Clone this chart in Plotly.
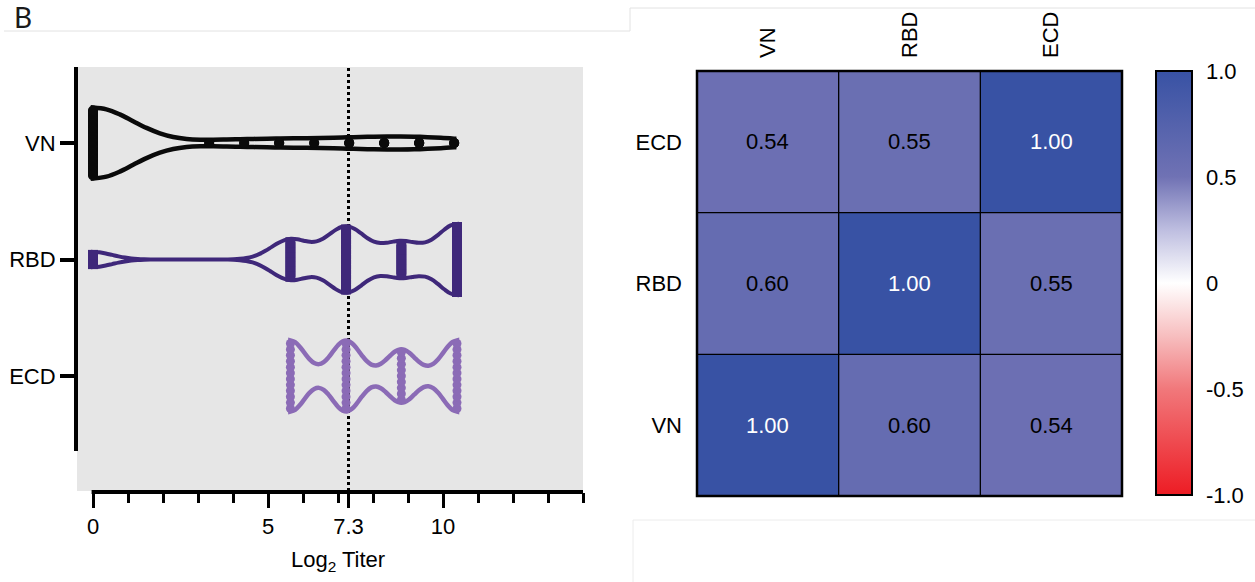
import numpy as np
import plotly.graph_objects as go

# ---------------- data ----------------
groups = ["VN", "RBD", "ECD"]

vn_titers = [0, 3.32, 4.32, 5.32, 6.32, 7.32, 8.32, 9.32, 10.32]
vn_counts = [55, 2, 2, 3, 2, 3, 4, 4, 3]

rbd_titers = [0, 5.64, 7.23, 8.81, 10.40]
rbd_counts = [3, 8, 13, 7, 14]

ecd_titers = [5.64, 7.23, 8.81, 10.40]
ecd_counts = [12, 12, 9, 12]

threshold = 7.3
major_ticks = [0, 5, 7.3, 10]
major_text = ["0", "5", "7.3", "10"]
minor_ticks = list(range(0, 15))

corr_labels = ["VN", "RBD", "ECD"]
corr = [
    [1.00, 0.60, 0.54],
    [0.60, 1.00, 0.55],
    [0.54, 0.55, 1.00],
]
cbar_vals = [-1, -0.5, 0, 0.5, 1]
cbar_text = ["-1.0", "-0.5", "0", "0.5", "1.0"]

# ---------------- geometry helpers ----------------
W, H = 1255, 582


def px(x):
    return x / W


def py(y):
    return 1 - y / H


FONT = "Liberation Sans, Arial, sans-serif"
Y_UNIT_PX = 116.5
VIOLIN_WIDTH = 0.61

series = [
    dict(name="VN", titers=vn_titers, counts=vn_counts, color="#0a0a0a",
         bw=1.15, lw=4.5, msize=10, symbol="circle"),
    dict(name="RBD", titers=rbd_titers, counts=rbd_counts, color="#3f287a",
         bw=0.55, lw=4, msize=10, symbol="square"),
    dict(name="ECD", titers=ecd_titers, counts=ecd_counts, color="#8b6bb6",
         bw=0.42, lw=4.5, msize=9, symbol="circle"),
]

fig = go.Figure()

n = len(groups)
for s in series:
    pos = n - 1 - groups.index(s["name"])
    samples = np.repeat(s["titers"], s["counts"])
    fig.add_trace(go.Violin(
        x=samples, y0=pos, orientation="h", name=s["name"],
        xaxis="x", yaxis="y",
        spanmode="hard", bandwidth=s["bw"], width=VIOLIN_WIDTH,
        scalemode="width", side="both", points=False,
        fillcolor="rgba(0,0,0,0)", line=dict(color=s["color"], width=s["lw"]),
        box_visible=False, meanline_visible=False, hoverinfo="skip",
        showlegend=False,
    ))
    # individual points spread across the local violin width
    cmax = max(s["counts"])
    r = 3 / Y_UNIT_PX
    xs, ys = [], []
    for v, c in zip(s["titers"], s["counts"]):
        hw = max(0.0, VIOLIN_WIDTH / 2 * c / cmax - r)
        offs = np.linspace(-hw, hw, c) if c > 1 else np.array([0.0])
        xs.extend([v] * c)
        ys.extend(list(pos + offs))
    fig.add_trace(go.Scatter(
        x=xs, y=ys, mode="markers", xaxis="x", yaxis="y",
        marker=dict(size=s["msize"], color=s["color"], symbol=s["symbol"],
                    line=dict(width=0)),
        hoverinfo="skip", showlegend=False, cliponaxis=False,
    ))

# ---------------- heatmap ----------------
colorscale = [
    [0.0, "rgb(237,28,36)"],
    [0.25, "rgb(241,120,123)"],
    [0.375, "rgb(247,190,191)"],
    [0.5, "rgb(255,255,255)"],
    [0.625, "rgb(190,190,224)"],
    [0.75, "rgb(112,114,180)"],
    [1.0, "rgb(56,82,164)"],
]
CB_TOP, CB_BOT, CB_L, CB_THICK = 71, 495, 1156, 36
fig.add_trace(go.Heatmap(
    z=corr, x=corr_labels, y=corr_labels, xaxis="x2", yaxis="y2",
    zmin=-1, zmax=1, colorscale=colorscale, hoverinfo="skip",
    colorbar=dict(
        x=px(CB_L), xanchor="left", y=py(CB_BOT), yanchor="bottom",
        len=(CB_BOT - CB_TOP) / H, lenmode="fraction",
        thickness=CB_THICK, thicknessmode="pixels",
        outlinewidth=2, outlinecolor="black",
        tickmode="array", tickvals=cbar_vals, ticktext=cbar_text,
        ticks="outside", ticklen=9, tickwidth=1, tickcolor="rgba(0,0,0,0)",
        tickfont=dict(family=FONT, size=22, color="black"),
        xpad=0, ypad=0,
    ),
))

annotations = []
for i, rl in enumerate(corr_labels):
    for j, cl in enumerate(corr_labels):
        val = corr[i][j]
        annotations.append(dict(
            x=cl, y=rl, xref="x2", yref="y2", text=f"{val:.2f}",
            showarrow=False,
            font=dict(family=FONT, size=22, color="white" if val >= 0.8 else "black"),
        ))

annotations.append(dict(
    x=px(338), y=py(561), xref="paper", yref="paper",
    xanchor="center", yanchor="middle",
    text="Log<sub>2</sub> Titer", showarrow=False,
    font=dict(family=FONT, size=22, color="black"),
))
annotations.append(dict(
    x=px(13), y=py(17), xref="paper", yref="paper",
    xanchor="left", yanchor="middle", borderpad=0,
    text="B", showarrow=False,
    font=dict(family="Lato, sans-serif", size=28, color="#1a1a1a"),
))

shapes = [
    # gray plotting background
    dict(type="rect", xref="paper", yref="paper", x0=px(77), x1=px(583),
         y0=py(491), y1=py(67), fillcolor="#e6e6e6", line=dict(width=0),
         layer="below"),
    # threshold line
    dict(type="line", xref="x", yref="paper", x0=threshold, x1=threshold,
         y0=py(491), y1=py(67), line=dict(color="black", width=3, dash="dot"),
         layer="below"),
    # y axis line
    dict(type="line", xref="paper", yref="paper", x0=px(76), x1=px(76),
         y0=py(451), y1=py(67), line=dict(color="black", width=4)),
    # x axis line
    dict(type="line", xref="x", yref="paper", x0=minor_ticks[0] - 0.04,
         x1=minor_ticks[-1] + 0.04, y0=py(492), y1=py(492),
         line=dict(color="black", width=4)),
    # panel frame lines
    dict(type="line", xref="paper", yref="paper", x0=px(4), x1=px(630),
         y0=py(31), y1=py(31), line=dict(color="#e2e2e2", width=1)),
    dict(type="line", xref="paper", yref="paper", x0=px(630), x1=px(630),
         y0=py(31), y1=py(8), line=dict(color="#e2e2e2", width=1)),
    dict(type="line", xref="paper", yref="paper", x0=px(630), x1=px(1255),
         y0=py(8), y1=py(8), line=dict(color="#e2e2e2", width=1)),
    dict(type="line", xref="paper", yref="paper", x0=px(633), x1=px(1255),
         y0=py(520), y1=py(520), line=dict(color="#ececec", width=1)),
    dict(type="line", xref="paper", yref="paper", x0=px(633), x1=px(633),
         y0=py(520), y1=0, line=dict(color="#ececec", width=1)),
    # heatmap outer frame
    dict(type="rect", xref="x2 domain", yref="y2 domain", x0=0, x1=1, y0=0,
         y1=1, line=dict(color="black", width=2.5)),
]
for k in range(len(corr_labels) - 1):
    shapes.append(dict(type="line", xref="x2", yref="y2 domain", x0=k + 0.5,
                       x1=k + 0.5, y0=0, y1=1,
                       line=dict(color="black", width=1.3)))
    shapes.append(dict(type="line", xref="x2 domain", yref="y2", x0=0, x1=1,
                       y0=k + 0.5, y1=k + 0.5,
                       line=dict(color="black", width=1.3)))

# small inward tick marks on both edges of the colour bar (interior ticks)
for v in cbar_vals[1:-1]:
    ypix = CB_BOT - (v + 1) / 2 * (CB_BOT - CB_TOP)
    for xa, xb in ((CB_L, CB_L + 5), (CB_L + CB_THICK - 5, CB_L + CB_THICK)):
        shapes.append(dict(type="line", xref="paper", yref="paper",
                           x0=px(xa), x1=px(xb), y0=py(ypix), y1=py(ypix),
                           line=dict(color="black", width=2)))

ECD_Y = 376
fig.update_layout(
    width=W, height=H, margin=dict(l=0, r=0, t=0, b=0),
    paper_bgcolor="white", plot_bgcolor="rgba(0,0,0,0)",
    font=dict(family=FONT, color="black"),
    showlegend=False,
    xaxis=dict(
        domain=[px(77), px(583)],
        range=[(77 - 93) / 35, (583 - 93) / 35],
        anchor="free", position=py(492),
        showline=False, showgrid=False, zeroline=False,
        tickmode="array", tickvals=major_ticks, ticktext=major_text,
        ticks="outside", ticklen=15, tickwidth=3, tickcolor="black",
        tickfont=dict(family=FONT, size=22, color="black"),
        minor=dict(tickmode="array", tickvals=minor_ticks, ticks="outside",
                   ticklen=10, tickwidth=3, tickcolor="black", showgrid=False),
        automargin=False, fixedrange=True,
    ),
    yaxis=dict(
        domain=[py(491), py(67)],
        type="linear",
        range=[(ECD_Y - 491) / Y_UNIT_PX, (ECD_Y - 67) / Y_UNIT_PX],
        anchor="free", position=px(76),
        showline=False, showgrid=False, zeroline=False,
        tickmode="array", tickvals=[n - 1 - i for i in range(n)],
        ticktext=groups,
        ticks="outside", ticklen=16, tickwidth=3.5, tickcolor="black",
        tickfont=dict(family=FONT, size=22, color="black"),
        automargin=False, fixedrange=True,
    ),
    xaxis2=dict(
        domain=[px(697), px(1122)], anchor="y2", side="top",
        showgrid=False, zeroline=False, showline=False,
        ticks="", tickangle=-90, ticklabelstandoff=12,
        tickfont=dict(family=FONT, size=22, color="black"),
        automargin=False, fixedrange=True,
    ),
    yaxis2=dict(
        domain=[py(496), py(71)], anchor="x2",
        showgrid=False, zeroline=False, showline=False,
        ticks="", ticklabelstandoff=14,
        tickfont=dict(family=FONT, size=22, color="black"),
        automargin=False, fixedrange=True,
    ),
    shapes=shapes,
    annotations=annotations,
)

fig.write_html("out.html")
